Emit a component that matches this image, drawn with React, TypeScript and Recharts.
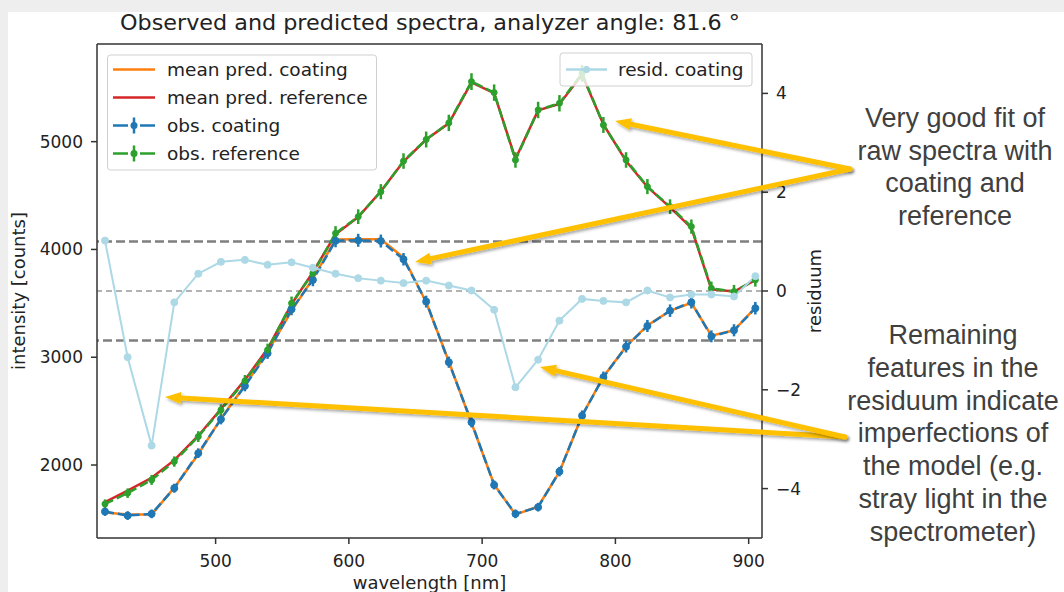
import { ComposedChart, Line, XAxis, YAxis, ReferenceLine, ErrorBar } from "recharts"

// wavelengths of the spectrometer samples [nm]
const wavelengths = [417, 434, 452, 469, 487, 504, 522, 539, 557, 573, 590, 607, 624, 641, 658, 675, 692, 709, 725, 742, 758, 775, 791, 808, 824, 841, 857, 872, 889, 905]

// observed / predicted intensities [counts]
const obsCoating = [1568, 1531, 1547, 1785, 2110, 2425, 2734, 3037, 3445, 3717, 4080, 4085, 4078, 3909, 3516, 2954, 2397, 1815, 1547, 1609, 1939, 2458, 2815, 3098, 3290, 3432, 3510, 3194, 3250, 3455]
const obsCoatingErr = [40, 40, 40, 42, 45, 48, 50, 52, 55, 58, 60, 60, 60, 58, 55, 52, 48, 42, 40, 40, 44, 48, 52, 54, 56, 58, 58, 55, 56, 58]
const predCoating = [1560, 1540, 1540, 1790, 2100, 2430, 2740, 3050, 3430, 3730, 4092, 4094, 4094, 3925, 3510, 2960, 2390, 1820, 1540, 1615, 1935, 2460, 2820, 3100, 3295, 3430, 3505, 3200, 3250, 3460]
const obsReference = [1639, 1739, 1862, 2032, 2264, 2511, 2780, 3068, 3501, 3779, 4150, 4304, 4536, 4820, 5020, 5174, 5557, 5455, 4830, 5294, 5356, 5634, 5155, 4830, 4583, 4397, 4212, 3640, 3609, 3717]
const obsReferenceErr = [42, 44, 46, 48, 50, 52, 55, 58, 62, 64, 66, 68, 70, 72, 74, 76, 78, 76, 72, 76, 76, 78, 74, 72, 70, 68, 66, 62, 62, 62]
const predReference = [1655, 1762, 1882, 2045, 2272, 2520, 2790, 3078, 3492, 3790, 4140, 4300, 4540, 4815, 5020, 5170, 5550, 5450, 4840, 5290, 5350, 5620, 5160, 4820, 4580, 4390, 4200, 3630, 3610, 3715]

// residuum of the coating fit
const residCoating = [1.02, -1.34, -3.13, -0.23, 0.35, 0.59, 0.63, 0.53, 0.58, 0.47, 0.35, 0.26, 0.21, 0.16, 0.21, 0.11, 0.01, -0.38, -1.95, -1.39, -0.6, -0.16, -0.2, -0.23, 0.01, -0.13, -0.07, -0.07, -0.11, 0.3]

const xTicks = [500, 600, 700, 800, 900]
const leftTicks = [2000, 3000, 4000, 5000]
const rightTicks = [-4, -2, 0, 2, 4]
const residLimits = [-1, 1]
const xDomain = [411, 910]
const leftDomain = [1323, 5906]

const note1 = ["Very good fit of", "raw spectra with", "coating and", "reference"]
const note2 = ["Remaining", "features in the", "residuum indicate", "imperfections of", "the model (e.g.", "stray light in the", "spectrometer)"]

const BLUE = "#1f77b4"
const ORANGE = "#ff7f0e"
const GREEN = "#2ca02c"
const RED = "#d62728"
const LIGHT = "#add8e6"
const GOLD = "#ffc000"
const MPL = "DejaVu Sans, sans-serif"

const data = wavelengths.map((w, i) => ({
  w,
  obsCoat: obsCoating[i],
  obsCoatErr: obsCoatingErr[i],
  predCoat: predCoating[i],
  obsRef: obsReference[i],
  obsRefErr: obsReferenceErr[i],
  predRef: predReference[i],
  resid: residCoating[i],
}))

const tickStyle = { fontSize: 17, fontFamily: MPL, fill: "#222" }
const minus = (v: number) => String(v).replace("-", "\u2212")

function Arrow({ x1, y1, x2, y2 }: { x1: number; y1: number; x2: number; y2: number }) {
  const dx = x2 - x1
  const dy = y2 - y1
  const len = Math.hypot(dx, dy)
  const ux = dx / len
  const uy = dy / len
  const head = 16
  const half = 6
  const bx = x2 - ux * head
  const by = y2 - uy * head
  const pts = `${x2},${y2} ${bx - uy * half},${by + ux * half} ${bx + uy * half},${by - ux * half}`
  return (
    <g filter="url(#shadow)">
      <line x1={x1} y1={y1} x2={bx} y2={by} stroke={GOLD} strokeWidth={5} strokeLinecap="round" />
      <polygon points={pts} fill={GOLD} />
    </g>
  )
}

function Handle({ y, color, obs }: { y: number; color: string; obs?: boolean }) {
  if (!obs) return <line x1={113} x2={155} y1={y} y2={y} stroke={color} strokeWidth={2.5} />
  return (
    <g>
      <line x1={113} x2={128} y1={y} y2={y} stroke={color} strokeWidth={2.5} />
      <line x1={140} x2={155} y1={y} y2={y} stroke={color} strokeWidth={2.5} />
      <line x1={134} x2={134} y1={y - 8} y2={y + 8} stroke={color} strokeWidth={2.5} />
      <circle cx={134} cy={y} r={3.5} fill={color} />
    </g>
  )
}

function Overlay() {
  const rows = [
    { label: "mean pred. coating", color: ORANGE, obs: false },
    { label: "mean pred. reference", color: RED, obs: false },
    { label: "obs. coating", color: BLUE, obs: true },
    { label: "obs. reference", color: GREEN, obs: true },
  ]
  return (
    <svg width={1064} height={592} style={{ position: "absolute", left: 0, top: 0, pointerEvents: "none" }}>
      <defs>
        <filter id="shadow" x="-10%" y="-50%" width="120%" height="200%">
          <feDropShadow dx="1.5" dy="2" stdDeviation="1.5" floodColor="#000" floodOpacity="0.35" />
        </filter>
      </defs>
      <text x={430} y={30} textAnchor="middle" fontFamily={MPL} fontSize={22} fill="#222" textLength={620} lengthAdjust="spacingAndGlyphs">
        Observed and predicted spectra, analyzer angle: 81.6 °
      </text>

      {/* legend of the intensity axis */}
      <rect x={107.5} y={55} width={269} height={115} rx={3} fill="#fff" fillOpacity={0.8} stroke="#d0d0d0" />
      {rows.map((r, i) => {
        const y = 69.5 + i * 28
        return (
          <g key={r.label}>
            <Handle y={y} color={r.color} obs={r.obs} />
            <text x={167} y={y + 6.5} fontFamily={MPL} fontSize={18.5} fill="#222">{r.label}</text>
          </g>
        )
      })}

      {/* legend of the residuum axis */}
      <rect x={560} y={53} width={192} height={33} rx={3} fill="#fff" fillOpacity={0.8} stroke="#d0d0d0" />
      <line x1={566} x2={607} y1={69.5} y2={69.5} stroke={LIGHT} strokeWidth={2.5} />
      <circle cx={586.5} cy={69.5} r={3.5} fill={LIGHT} />
      <text x={618} y={76} fontFamily={MPL} fontSize={18.5} fill="#222">resid. coating</text>

      <Arrow x1={850} y1={169} x2={615} y2={121} />
      <Arrow x1={850} y1={169} x2={415} y2={262} />
      <Arrow x1={845} y1={437} x2={165} y2={397} />
      <Arrow x1={845} y1={437} x2={540} y2={367} />

      {note1.map((t, i) => (
        <text key={t} x={955} y={127 + i * 32.7} textAnchor="middle" fontFamily="Liberation Sans, Arial, sans-serif" fontSize={27} fill="#404040">{t}</text>
      ))}
      {note2.map((t, i) => (
        <text key={t} x={953} y={344 + i * 32.8} textAnchor="middle" fontFamily="Liberation Sans, Arial, sans-serif" fontSize={27} fill="#404040">{t}</text>
      ))}
    </svg>
  )
}

export default function App() {
  return (
    <div style={{ position: "absolute", left: 0, top: 0, width: 1064, height: 592, background: "#eeeeee", overflow: "hidden" }}>
      <div style={{ position: "absolute", left: 8, top: 12, width: 1056, height: 580, background: "#fff" }} />
      <div style={{ position: "absolute", left: 0, top: 0 }}>
        <ComposedChart width={1064} height={592} data={data} margin={{ top: 44, right: 196, bottom: 0, left: 0 }}>
          <XAxis
            dataKey="w"
            type="number"
            domain={xDomain}
            allowDataOverflow
            ticks={xTicks}
            height={54}
            tickSize={6}
            tickMargin={11}
            tick={tickStyle}
            stroke="#333"
            strokeWidth={1.5}
            label={{ value: "wavelength [nm]", position: "insideBottom", offset: 3, style: { fontSize: 18, fontFamily: MPL, fill: "#222" } }}
          />
          <YAxis
            yAxisId="left"
            type="number"
            domain={leftDomain}
            allowDataOverflow
            ticks={leftTicks}
            width={97}
            tickSize={6}
            tickMargin={8}
            tick={tickStyle}
            stroke="#333"
            strokeWidth={1.5}
            label={{ value: "intensity [counts]", angle: -90, position: "insideLeft", offset: 19, style: { textAnchor: "middle", fontSize: 18, fontFamily: MPL, fill: "#222" } }}
          />
          <YAxis
            yAxisId="right"
            orientation="right"
            type="number"
            domain={[-5, 5]}
            allowDataOverflow
            ticks={rightTicks}
            tickFormatter={minus}
            width={106}
            tickSize={6}
            tickMargin={8}
            tick={tickStyle}
            stroke="#333"
            strokeWidth={1.5}
            label={{ value: "residuum", angle: -90, position: "center", style: { fontSize: 18, fontFamily: MPL, fill: "#222" } }}
          />

          {/* top frame of the axes */}
          <ReferenceLine yAxisId="left" y={leftDomain[1]} stroke="#333" strokeWidth={1.5} />

          <ReferenceLine yAxisId="right" y={0} stroke="#999" strokeWidth={1.5} strokeDasharray="6 4" />
          {residLimits.map((v) => (
            <ReferenceLine key={v} yAxisId="right" y={v} stroke="#7f7f7f" strokeWidth={2.5} strokeDasharray="9 4" />
          ))}

          <Line yAxisId="left" dataKey="predCoat" type="linear" stroke={ORANGE} strokeWidth={2.5} dot={false} isAnimationActive={false} />
          <Line yAxisId="left" dataKey="obsCoat" type="linear" stroke={BLUE} strokeWidth={2.5} strokeDasharray="9 4"
            dot={{ r: 3.5, fill: BLUE, stroke: BLUE, strokeWidth: 1, strokeDasharray: "none" }} isAnimationActive={false}>
            <ErrorBar dataKey="obsCoatErr" width={0} stroke={BLUE} strokeWidth={2.5} direction="y" />
          </Line>
          <Line yAxisId="left" dataKey="predRef" type="linear" stroke={RED} strokeWidth={2.5} dot={false} isAnimationActive={false} />
          <Line yAxisId="left" dataKey="obsRef" type="linear" stroke={GREEN} strokeWidth={2.5} strokeDasharray="9 4"
            dot={{ r: 3, fill: GREEN, stroke: GREEN, strokeWidth: 1, strokeDasharray: "none" }} isAnimationActive={false}>
            <ErrorBar dataKey="obsRefErr" width={0} stroke={GREEN} strokeWidth={2.5} direction="y" />
          </Line>
          <Line yAxisId="right" dataKey="resid" type="linear" stroke={LIGHT} strokeWidth={2}
            dot={{ r: 3.5, fill: LIGHT, stroke: LIGHT, strokeWidth: 1 }} isAnimationActive={false} />
        </ComposedChart>
      </div>
      <Overlay />
    </div>
  )
}
